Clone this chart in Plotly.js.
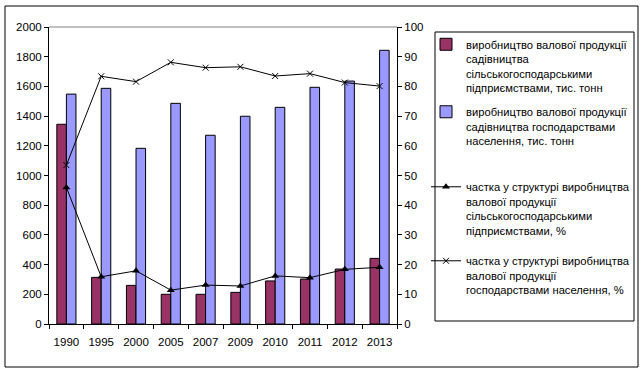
<!DOCTYPE html>
<html>
<head>
<meta charset="utf-8">
<script src="https://cdn.plot.ly/plotly-3.0.1.min.js"></script>
<style>html,body{margin:0;padding:0;background:#fff;}#chart{width:642px;height:372px;}</style>
</head>
<body>
<div id="chart"></div>
<script>
const years = ['1990','1995','2000','2005','2007','2009','2010','2011','2012','2013'];
const enterpriseProd = [1345, 314, 260, 200, 200, 213, 290, 303, 370, 442];
const householdProd = [1548, 1587, 1183, 1486, 1271, 1399, 1459, 1594, 1636, 1843];
const enterpriseShare = [46.0, 15.9, 17.9, 11.4, 13.1, 12.8, 16.2, 15.6, 18.4, 19.1];
const householdShare = [53.5, 83.4, 81.6, 88.1, 86.3, 86.6, 83.5, 84.3, 81.3, 80.1];
const names = [
  'виробництво валової продукції<br>садівництва<br>сільськогосподарськими<br>підприємствами, тис. тонн',
  'виробництво валової продукції<br>садівництва господарствами<br>населення, тис. тонн',
  'частка у структурі виробництва<br>валової продукції<br>сільськогосподарськими<br>підприємствами, %',
  'частка у структурі виробництва<br>валової продукції<br>господарствами населення, %'
];

const L = 49, R = 397, T = 27, B = 324;
const px = v => (v - L) / (R - L);
const py = v => (B - v) / (B - T);
const font = {family: 'Liberation Sans, Arial, sans-serif', size: 11.5, color: '#000'};
const legFont = {family: 'Liberation Sans, Arial, sans-serif', size: 11.2, color: '#000'};

const traces = [
  {type: 'bar', x: years, y: enterpriseProd, name: names[0], legend: 'legend',
   marker: {color: '#993366', line: {color: '#000', width: 1}}},
  {type: 'bar', x: years, y: householdProd, name: names[1], legend: 'legend2',
   marker: {color: '#9999FF', line: {color: '#000', width: 1}}},
  {type: 'scatter', mode: 'lines+markers', x: years, y: enterpriseShare, yaxis: 'y2', name: names[2], legend: 'legend3',
   line: {color: '#000', width: 1}, marker: {symbol: 'triangle-up', size: 7, color: '#000'}},
  {type: 'scatter', mode: 'lines+markers', x: years, y: householdShare, yaxis: 'y2', name: names[3], legend: 'legend4',
   line: {color: '#000', width: 1}, marker: {symbol: 'x-thin', size: 6, line: {color: '#000', width: 1}}}
];

const legBase = {xanchor: 'left', yanchor: 'top', valign: 'top', bgcolor: 'rgba(0,0,0,0)', borderwidth: 0, font: legFont, itemclick: false};
const layout = {
  width: 642, height: 372,
  margin: {l: L, r: 642 - R, t: T, b: 372 - B, pad: 0, autoexpand: false},
  paper_bgcolor: '#fff', plot_bgcolor: '#fff',
  font: font,
  barmode: 'group', bargap: 0.45, bargroupgap: 0,
  showlegend: true,
  xaxis: {type: 'category', range: [-0.5, years.length - 0.5], showline: true, linecolor: '#000', linewidth: 1,
    tickangle: 0, automargin: false, ticklabelstandoff: 7,
    ticks: 'outside', tickson: 'boundaries', ticklen: 4, tickcolor: '#000',
    showgrid: false, zeroline: false, tickfont: font, fixedrange: true},
  yaxis: {range: [0, 2000], dtick: 200, showline: true, linecolor: '#000', linewidth: 1, automargin: false,
    ticks: 'outside', ticklen: 4, tickcolor: '#000', showgrid: false, zeroline: false,
    tickfont: font, fixedrange: true},
  yaxis2: {range: [0, 100], dtick: 10, overlaying: 'y', side: 'right', showline: true, automargin: false,
    linecolor: '#000', linewidth: 1, ticks: 'outside', ticklen: 4, tickcolor: '#000',
    showgrid: false, zeroline: false, tickfont: font, fixedrange: true},
  legend: Object.assign({}, legBase, {x: px(426), y: py(30.5)}),
  legend2: Object.assign({}, legBase, {x: px(426), y: py(98)}),
  legend3: Object.assign({}, legBase, {x: px(426), y: py(173)}),
  legend4: Object.assign({}, legBase, {x: px(426), y: py(247)}),
  shapes: [
    {type: 'line', xref: 'paper', yref: 'paper', x0: 0, x1: 1, y0: 1, y1: 1, line: {color: '#808080', width: 1}},
    {type: 'rect', xref: 'paper', yref: 'paper', x0: px(435), x1: px(634), y0: py(32), y1: py(321), line: {color: '#000', width: 1}},
    {type: 'rect', xref: 'paper', yref: 'paper', x0: px(5), x1: px(638), y0: py(6), y1: py(367), line: {color: '#000', width: 1}}
  ]
};

Plotly.newPlot('chart', traces, layout, {displayModeBar: false, staticPlot: true});
</script>
</body>
</html>
